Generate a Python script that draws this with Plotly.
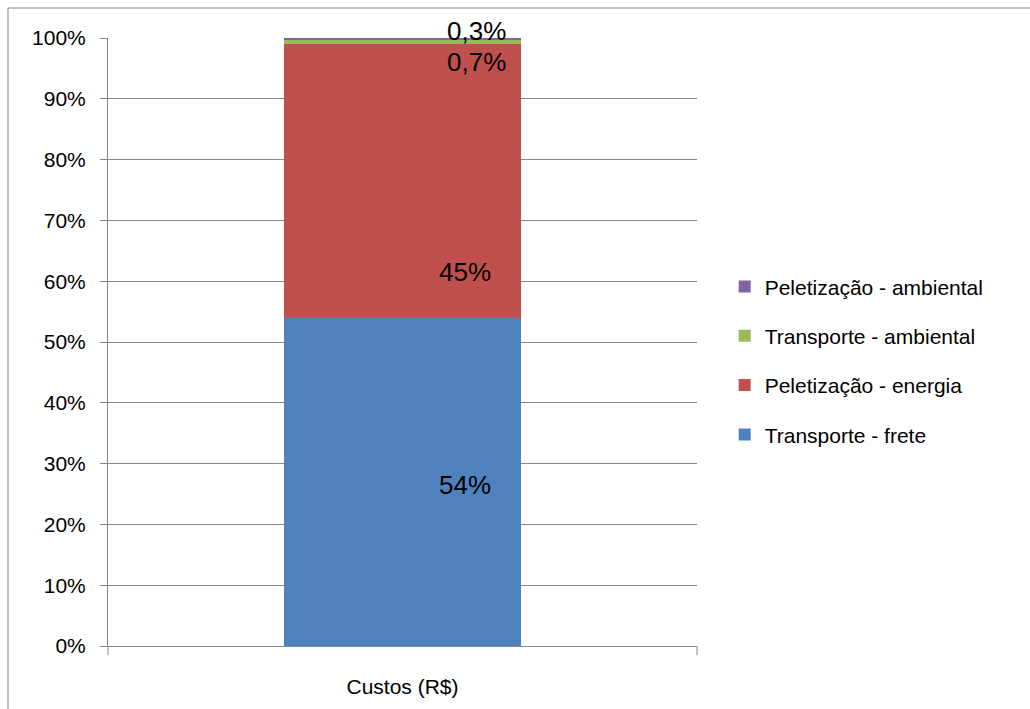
import plotly.graph_objects as go

categories = ["Custos (R$)"]
series_names = ["Transporte - frete", "Peletização - energia", "Transporte - ambiental", "Peletização - ambiental"]
series_values = [[0.54], [0.45], [0.007], [0.003]]
series_colors = ["#4F81BD", "#C0504D", "#9BBB59", "#8064A2"]
label_texts = ["54%", "45%", "0,7%", "0,3%"]
label_y = [0.265, 0.615, 0.96, 1.012]
label_xshift = [62, 62, 74, 74]
tick_vals = [i / 10 for i in range(11)]
tick_text = [f"{i*10}%" for i in range(11)]

FONT = "Liberation Sans"

fig = go.Figure()
for i, (name, vals, col) in enumerate(zip(series_names, series_values, series_colors)):
    fig.add_trace(go.Bar(
        x=categories, y=vals, name=name, marker=dict(color=col, line=dict(width=0)),
        legendgroup=name, legendrank=100 - i, width=0.402,
    ))

for t, y, xs in zip(label_texts, label_y, label_xshift):
    fig.add_annotation(x=categories[0], y=y, yref="paper", yanchor="middle", xanchor="center",
                       text=t, showarrow=False, xshift=xs,
                       font=dict(family=FONT, size=26, color="#000000"))

fig.update_layout(
    barmode="stack",
    width=1030, height=709,
    margin=dict(l=108, r=333, t=38, b=63),
    paper_bgcolor="white", plot_bgcolor="white",
    font=dict(family=FONT, size=21, color="#000000"),
    legend=dict(
        x=1.047, xanchor="left", y=0.469, yanchor="middle",
        traceorder="grouped", tracegroupgap=19,
        font=dict(family=FONT, size=21), bgcolor="rgba(0,0,0,0)",
    ),
    showlegend=True,
    bargap=0,
)
fig.update_yaxes(
    range=[0, 1], tickvals=tick_vals, ticktext=tick_text,
    showgrid=True, gridcolor="#868686", gridwidth=1,
    showline=True, linecolor="#868686", linewidth=1,
    ticks="outside", ticklen=7, tickcolor="#868686",
    ticklabelstandoff=10,
    zeroline=False, fixedrange=True,
)
fig.update_xaxes(
    showline=True, linecolor="#868686", linewidth=1, ticks="", showgrid=False,
    tickfont=dict(size=21), ticklabelstandoff=22, fixedrange=True,
)
# category axis end tick marks
for xp in [0, 1]:
    fig.add_shape(type="line", xref="paper", yref="paper", x0=xp, x1=xp, y0=0, y1=-0.015,
                  line=dict(color="#868686", width=1))
# outer chart border
fig.add_shape(type="rect", xref="paper", yref="paper",
              x0=(8 - 108) / 589, x1=1.6, y0=-0.2, y1=(646 - 8) / 608,
              line=dict(color="#868686", width=1), fillcolor="rgba(0,0,0,0)", layer="below")

fig.write_html("out.html")
